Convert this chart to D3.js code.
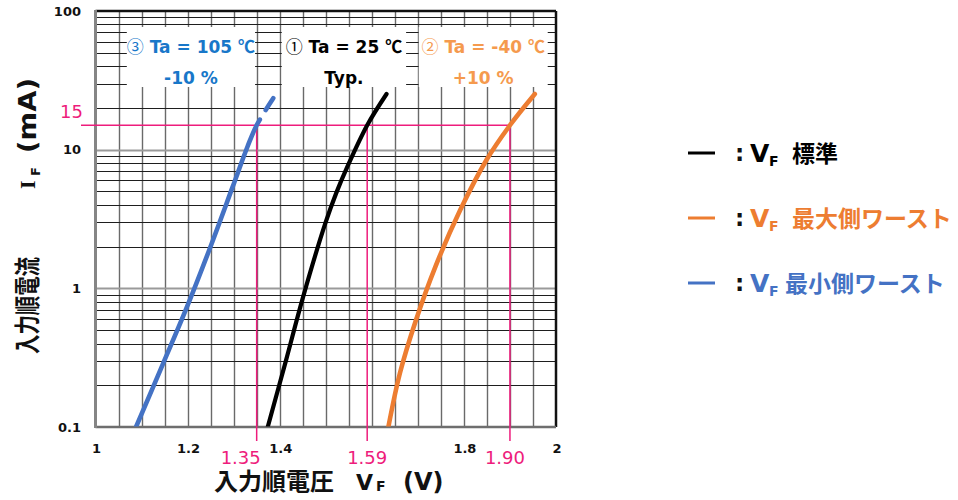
<!DOCTYPE html>
<html lang="ja">
<head>
<meta charset="utf-8">
<script src="https://cdn.jsdelivr.net/npm/d3@7"></script>
<style>
  html, body { margin: 0; padding: 0; background: #fff; }
  svg { display: block; font-family: "DejaVu Sans", "Noto Sans CJK JP", sans-serif; }
  .cjk { font-family: "Noto Sans CJK JP", sans-serif; }
</style>
</head>
<body>
<svg id="chart" width="958" height="500"></svg>
<script>
// Forward voltage VF (V) vs forward current IF (mA) for three cases
const vfTyp = [1.374, 1.413, 1.451, 1.499, 1.5225, 1.547, 1.590, 1.632];
const ifTyp = [0.1, 0.296, 0.871, 2.94, 4.84, 7.54, 15, 25.2];

const vfMax = [1.636, 1.661, 1.696, 1.738, 1.792, 1.849, 1.900, 1.954];
const ifMax = [0.1, 0.244, 0.591, 1.43, 3.67, 8.42, 15, 25.2];

const vfMin = [1.088, 1.147, 1.196, 1.247, 1.298, 1.330, 1.350, 1.386];
const ifMin = [0.1, 0.288, 0.698, 1.89, 5.41, 10.5, 15, 23.5];

// Reference current and the voltages at that current
const refCurrent = 15;
const refVoltages = [1.35, 1.59, 1.90];
const refLabels = ["1.35", "1.59", "1.90"];

// Axis ticks
const xTickValues = [1, 1.2, 1.4, 1.8, 2];
const yTickValues = [0.1, 1, 10, 100];

// Condition captions per curve box: marker, temperature text, tolerance
const captionMark = ["③", "①", "②"];
const captionTemp = [" Ta = 105 ", " Ta = 25 ", " Ta = -40 "];
const captionBottom = ["-10 %", "Typ.", "+10 %"];

// Legend entries
const legendLabels = ["標準", "最大側ワースト", "最小側ワースト"];

const C_BLACK = "#000000", C_ORANGE = "#ED7D31", C_BLUE = "#4472C4";
const C_PINK = "#EE1C7C";

const svg = d3.select("#chart");
const X0 = 95.5, X1 = 556, Y0 = 11, Y1 = 427;
const snap = v => Math.round(v) + 0.5;

const x = d3.scaleLinear().domain([1, 2]).range([X0, X1]);
const y = d3.scaleLog().domain([0.1, 100]).range([Y1, Y0]);

// ---- grid ----
const grid = svg.append("g");
grid.selectAll("line.v")
  .data(d3.range(1, 20).map(i => 1 + i * 0.05))
  .join("line")
  .attr("x1", d => snap(x(d))).attr("x2", d => snap(x(d)))
  .attr("y1", Y0).attr("y2", Y1)
  .attr("stroke", "#6a6a6a").attr("stroke-width", 1.4);

const isDecade = d => Math.abs(Math.log10(d) - Math.round(Math.log10(d))) < 1e-9;
const yGrid = y.ticks().filter(v => v > 0.1 && v < 100);
grid.selectAll("line.h")
  .data(yGrid)
  .join("line")
  .attr("x1", X0).attr("x2", X1)
  .attr("y1", d => snap(y(d))).attr("y2", d => snap(y(d)))
  .attr("stroke", d => isDecade(d) ? "#9a9a9a" : "#1e1e1e")
  .attr("stroke-width", d => isDecade(d) ? 2 : 1);

// ---- caption boxes (white panels over the grid) ----
const boxSpans = [[1.0680, 1.3465], [1.4045, 1.6745], [1.7020, 1.9820]];
const boxTop = 27, boxBottom = 87;
svg.append("g").selectAll("rect")
  .data(boxSpans)
  .join("rect")
  .attr("x", d => x(d[0])).attr("width", d => x(d[1]) - x(d[0]))
  .attr("y", boxTop).attr("height", boxBottom - boxTop)
  .attr("fill", "#fff");

const capColors = ["#1877C9", "#000000", "#F59A4E"];
const capG = svg.append("g").attr("font-weight", "bold").attr("font-size", 17).attr("text-anchor", "middle");
captionTemp.forEach((t, i) => {
  const cx = (x(boxSpans[i][0]) + x(boxSpans[i][1])) / 2;
  const t1 = capG.append("text").attr("x", cx).attr("y", 53).attr("fill", capColors[i]);
  t1.append("tspan").attr("class", "cjk").attr("font-weight", "normal").text(captionMark[i]);
  t1.append("tspan").text(t);
  t1.append("tspan").attr("class", "cjk").attr("font-weight", "bold").text("℃");
  capG.append("text").attr("x", cx).attr("y", 84).attr("fill", capColors[i]).text(captionBottom[i]);
});

// ---- frame ----
svg.append("line").attr("x1", X0).attr("x2", X1).attr("y1", Y0).attr("y2", Y0)
  .attr("stroke", "#111").attr("stroke-width", 2.5);
svg.append("line").attr("x1", X1).attr("x2", X1).attr("y1", Y0).attr("y2", Y1)
  .attr("stroke", "#111").attr("stroke-width", 2.5);
svg.append("line").attr("x1", X0).attr("x2", X1).attr("y1", Y1).attr("y2", Y1)
  .attr("stroke", "#6e6e6e").attr("stroke-width", 2.5);
svg.append("line").attr("x1", X0).attr("x2", X0).attr("y1", Y0 - 1).attr("y2", Y1 + 1)
  .attr("stroke", "#858585").attr("stroke-width", 3);

// ---- reference lines at IF = 15 mA ----
const yRef = y(refCurrent);
svg.append("line")
  .attr("x1", 81).attr("x2", x(d3.max(refVoltages)))
  .attr("y1", yRef).attr("y2", yRef)
  .attr("stroke", C_PINK).attr("stroke-width", 1.5);
svg.append("g").selectAll("line")
  .data(refVoltages)
  .join("line")
  .attr("x1", d => x(d)).attr("x2", d => x(d))
  .attr("y1", yRef).attr("y2", Y1 + 14)
  .attr("stroke", C_PINK).attr("stroke-width", 1.5);

// ---- curves ----
svg.append("clipPath").attr("id", "plotClip")
  .append("rect").attr("x", X0).attr("y", 0).attr("width", X1 - X0).attr("height", Y1 - 0.5);

const line = d3.line()
  .x(d => x(d[0])).y(d => y(d[1]))
  .curve(d3.curveCatmullRom.alpha(0.5));

const series = [
  { v: vfMin, i: ifMin, color: C_BLUE, w: 4.6, dashedTip: true },
  { v: vfTyp, i: ifTyp, color: C_BLACK, w: 4.2 },
  { v: vfMax, i: ifMax, color: C_ORANGE, w: 4.6 }
];
const curveG = svg.append("g").attr("clip-path", "url(#plotClip)");
series.forEach(s => {
  const p = curveG.append("path")
    .datum(d3.zip(s.v, s.i))
    .attr("d", line)
    .attr("fill", "none")
    .attr("stroke", s.color)
    .attr("stroke-width", s.w)
    .attr("stroke-linecap", "round");
  if (s.dashedTip) {
    const L = p.node().getTotalLength();
    p.attr("stroke-dasharray", `${L - 25} 11 14`);
  }
});

// ---- tick labels ----
const tickG = svg.append("g").attr("font-weight", "bold").attr("font-size", 13).attr("fill", "#111");
tickG.selectAll("text.y")
  .data(yTickValues)
  .join("text")
  .attr("x", 81).attr("y", d => y(d) + 4.5)
  .attr("text-anchor", "end")
  .text(d => d3.format("~g")(d));
tickG.selectAll("text.x")
  .data(xTickValues)
  .join("text")
  .attr("x", d => x(d) + 1).attr("y", 453)
  .attr("text-anchor", "middle")
  .text(d => d3.format("~g")(d));

// reference value labels
const refShift = [-16, 0, -5];
svg.append("g").attr("font-size", 18).attr("fill", C_PINK).attr("text-anchor", "middle")
  .selectAll("text")
  .data(refLabels)
  .join("text")
  .attr("x", (d, i) => x(refVoltages[i]) + refShift[i])
  .attr("y", 463.5)
  .text(d => d);
svg.append("text")
  .attr("x", 83).attr("y", yRef - 7.5)
  .attr("text-anchor", "end").attr("font-size", 18).attr("fill", C_PINK)
  .text(String(refCurrent));

// ---- axis titles ----
const xt = svg.append("text").attr("y", 490).attr("font-weight", "bold").attr("font-size", 24).attr("fill", "#111");
xt.append("tspan").attr("x", 214).text("入力順電圧");
xt.append("tspan").attr("x", 356).attr("font-size", 22).text("V");
xt.append("tspan").attr("x", 376).attr("dy", 1).attr("font-size", 14).text("F");
xt.append("tspan").attr("x", 403).attr("dy", -1).text("(V)");

const yt = svg.append("g").attr("transform", "translate(37,0) rotate(-90)")
  .attr("font-weight", "bold").attr("fill", "#111");
yt.append("text").attr("x", -354).attr("y", 0).attr("font-size", 26)
  .attr("textLength", 97).attr("lengthAdjust", "spacingAndGlyphs").text("入力順電流");
yt.append("text").attr("x", -189).attr("y", -2).attr("font-size", 22)
  .attr("font-family", "'Liberation Serif', serif").text("I");
yt.append("text").attr("x", -176).attr("y", 3).attr("font-size", 13).text("F");
yt.append("text").attr("x", -153).attr("y", -1).attr("font-size", 24)
  .attr("textLength", 75).attr("lengthAdjust", "spacingAndGlyphs").text("(mA)");

// ---- legend ----
const legendColors = [C_BLACK, C_ORANGE, C_BLUE];
const legendRowY = [153, 218, 283];
const cjkStart = [792, 792, 785];
const lg = svg.append("g");
legendLabels.forEach((lab, k) => {
  const cy = legendRowY[k];
  lg.append("line").attr("x1", 688).attr("x2", 715).attr("y1", cy).attr("y2", cy)
    .attr("stroke", legendColors[k]).attr("stroke-width", 3);
  lg.append("text").attr("x", 735).attr("y", cy + 8).attr("font-weight", "bold")
    .attr("font-size", 23).attr("fill", "#111").text(":");
  const t = lg.append("text").attr("y", cy + 9).attr("font-weight", "bold")
    .attr("fill", legendColors[k]);
  t.append("tspan").attr("x", 750).attr("font-size", 25).text("V");
  t.append("tspan").attr("x", 769).attr("dy", 4).attr("font-size", 14).text("F");
  t.append("tspan").attr("x", cjkStart[k]).attr("dy", -4)
    .attr("font-size", 23).text(lab);
});
</script>
</body>
</html>
